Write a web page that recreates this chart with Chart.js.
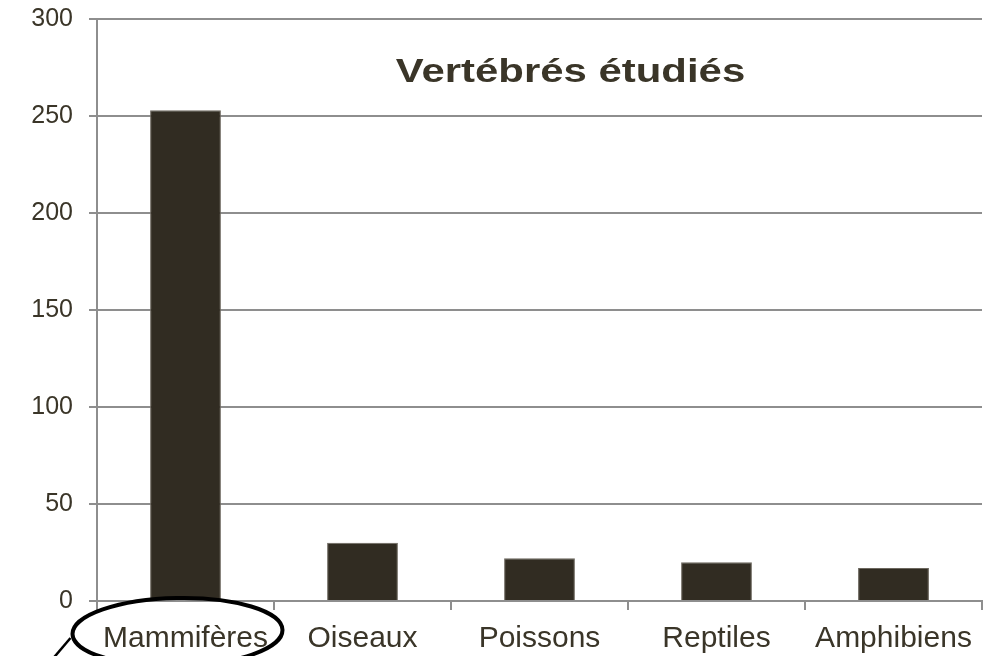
<!DOCTYPE html>
<html>
<head>
<meta charset="utf-8">
<script src="https://cdn.jsdelivr.net/npm/chart.js@4/dist/chart.umd.min.js"></script>
<style>
  html, body { margin: 0; padding: 0; background: #fff; }
  #wrap { width: 988px; height: 656px; position: relative; }
</style>
</head>
<body>
<div id="wrap"><canvas id="c"></canvas></div>
<script>
const categories = ['Mammifères', 'Oiseaux', 'Poissons', 'Reptiles', 'Amphibiens'];
const counts = [253, 30, 22, 20, 17];
const chartTitle = 'Vertébrés étudiés';
const yMin = 0, yMax = 300, yStep = 50;

const TEXT = '#3a3528';
const GRID = '#8e8e8e';
const FONT = '"Liberation Sans", Arial, sans-serif';

// Title drawn inside the plot area, and the hand-drawn circle around the first label
const overlayPlugin = {
  id: 'overlay',
  afterDraw(chart) {
    const { ctx, chartArea, scales: { x } } = chart;
    ctx.save();
    ctx.font = 'bold 33px ' + FONT;
    ctx.fillStyle = TEXT;
    ctx.textAlign = 'center';
    ctx.textBaseline = 'alphabetic';
    ctx.translate(chartArea.left + (chartArea.right - chartArea.left) * 0.535, 82);
    ctx.scale(1.27, 1);   // the original title is set wide
    ctx.fillText(chartTitle, 0, 0);
    ctx.restore();

    // callout ellipse around the first category label
    ctx.save();
    const cx = x.getPixelForValue(0) - 8;
    const cy = chartArea.bottom + 31;
    ctx.strokeStyle = '#000';
    ctx.lineWidth = 4;
    ctx.beginPath();
    ctx.ellipse(cx, cy, 105, 34, -0.02, 0, Math.PI * 2);
    ctx.stroke();
    ctx.lineWidth = 2.5;
    ctx.beginPath();
    ctx.moveTo(cx - 107, cy + 6);
    ctx.lineTo(cx - 130, cy + 33);
    ctx.stroke();
    ctx.restore();
  },
};

new Chart(document.getElementById('c'), {
  type: 'bar',
  data: {
    labels: categories,
    datasets: [{
      data: counts,
      backgroundColor: '#312c22',
      borderColor: '#6c675e',
      borderWidth: 1,
      barPercentage: 0.4,
      categoryPercentage: 1,
    }],
  },
  options: {
    responsive: true,
    maintainAspectRatio: false,
    animation: false,
    layout: { padding: { top: 19, right: 6, left: 0, bottom: 0 } },
    scales: {
      x: {
        afterFit(scale) { scale.height = 55; },
        grid: { drawOnChartArea: false, offset: true, color: GRID, lineWidth: 2, tickLength: 9 },
        border: { color: GRID, width: 2 },
        ticks: { color: TEXT, font: { size: 30, family: FONT }, padding: 11, maxRotation: 0, autoSkip: false },
      },
      y: {
        min: yMin,
        max: yMax,
        afterFit(scale) { scale.width = 97; scale.paddingTop = 0; scale.paddingBottom = 0; },
        grid: { color: GRID, lineWidth: 2, tickLength: 8 },
        border: { color: GRID, width: 2 },
        ticks: { stepSize: yStep, color: TEXT, font: { size: 25, family: FONT }, padding: 16 },
      },
    },
    plugins: {
      legend: { display: false },
      tooltip: { enabled: false },
    },
  },
  plugins: [overlayPlugin],
});
</script>
</body>
</html>
